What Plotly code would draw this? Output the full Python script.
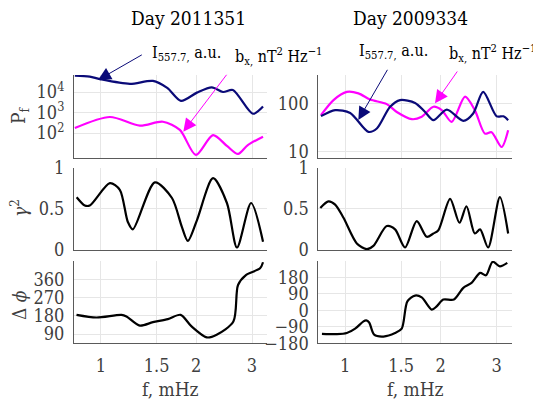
import plotly.graph_objects as go
import math

# ---------------- data ----------------
# Day 2011351
f_I_L = [0.828, 0.923, 0.993, 1.235, 1.46, 1.62, 1.79, 2.01, 2.24, 2.43, 2.61, 3.02, 3.25]
I_L = [63000, 56000, 42700, 25000, 34700, 15800, 3700, 9330, 17000, 10000, 12600, 870, 1950]
f_b_L = [0.828, 1.068, 1.328, 1.57, 1.776, 1.995, 2.26, 2.5, 2.71, 2.91, 3.25]
b_L = [174, 603, 229, 355, 141, 8.5, 79, 23.4, 9.5, 25.7, 66]
f_g_L = [0.839, 0.89, 0.923, 1.068, 1.148, 1.217, 1.262, 1.481, 1.677, 1.802, 1.882, 2.01, 2.26, 2.5, 2.69, 2.98, 3.25]
g_L = [0.64, 0.54, 0.54, 0.81, 0.73, 0.34, 0.25, 0.82, 0.63, 0.28, 0.11, 0.36, 0.87, 0.57, 0.03, 0.57, 0.1]
f_p_L = [0.838, 0.969, 1.162, 1.205, 1.328, 1.46, 1.628, 1.786, 1.933, 2.16, 2.32, 2.62, 2.71, 2.87, 3.18, 3.25]
p_L = [185, 172, 185, 177, 132, 149, 164, 185, 128, 74, 87, 152, 332, 381, 414, 444]

# Day 2009334
f_I_R = [0.839, 0.93, 1.037, 1.184, 1.258, 1.385, 1.489, 1.66, 1.785, 1.896, 2.09, 2.355, 2.53, 2.72, 3.0, 3.15, 3.26]
I_R = [54.2, 72.4, 63.1, 25.4, 29.9, 85.1, 117.5, 102.3, 66.1, 44.7, 74.1, 43.2, 61.7, 173.8, 53.7, 53.7, 44.7]
f_b_R = [0.839, 0.919, 1.012, 1.101, 1.198, 1.352, 1.454, 1.621, 1.742, 1.896, 2.014, 2.165, 2.385, 2.56, 2.755, 2.89, 3.11, 3.26]
b_R = [56.9, 117.5, 173.8, 162.2, 120.2, 96.6, 66.1, 46.8, 52.5, 85.1, 72.4, 41.2, 138, 72.4, 23.4, 25.1, 12.3, 27.5]
f_g_R = [0.835, 0.886, 0.93, 0.988, 1.088, 1.17, 1.227, 1.352, 1.436, 1.544, 1.68, 1.807, 1.896, 1.966, 2.14, 2.29, 2.41, 2.56, 2.66, 2.82, 3.07, 3.26]
g_R = [0.51, 0.59, 0.55, 0.39, 0.08, 0.01, 0.05, 0.29, 0.25, 0.03, 0.35, 0.16, 0.2, 0.24, 0.62, 0.33, 0.53, 0.2, 0.25, 0.03, 0.64, 0.2]
f_p_R = [0.845, 0.942, 1.012, 1.075, 1.142, 1.165, 1.19, 1.234, 1.32, 1.436, 1.507, 1.57, 1.66, 1.742, 1.874, 1.942, 2.037, 2.2, 2.355, 2.5, 2.66, 2.776, 2.914, 3.07, 3.24]
p_R = [-128, -130, -124, -100, -60, -55, -66, -133, -143, -124, -100, 49, 81, 71, 4, 22, 59, 59, 123, 150, 205, 192, 266, 241, 260]

x_ticks = [1, 1.5, 2, 3]
x_ticktext = ["1", "1.5", "2", "3"]

# ---------------- styling ----------------
FONT = "DejaVu Serif Condensed, DejaVu Serif, serif"
NAVY = "#0a0a78"
MAG = "#ff00ff"
GRID = "#e6e6e6"
AX = "#5a5a5a"
TICK = "#404040"

# the page body has an 8 px margin: the figure is drawn 8 px smaller and
# window pixel positions are converted to paper fractions with that offset
OFF = 8
W, H = 541 - OFF, 405 - OFF
def PX(px):
    return (px - OFF) / W
def PY(py):
    return 1 - (py - OFF) / H

fig = go.Figure()

def line(x, y, xa, ya, color):
    fig.add_trace(go.Scatter(x=x, y=y, xaxis=xa, yaxis=ya, mode="lines",
                             line=dict(color=color, width=2.2, shape="spline", smoothing=0.8),
                             showlegend=False, hoverinfo="skip"))

line(f_I_L, I_L, "x", "y", NAVY)
line(f_b_L, b_L, "x", "y", MAG)
line(f_b_R, b_R, "x2", "y2", MAG)
line(f_I_R, I_R, "x2", "y2", NAVY)
line(f_g_L, g_L, "x3", "y3", "black")
line(f_g_R, g_R, "x4", "y4", "black")
line(f_p_L, p_L, "x5", "y5", "black")
line(f_p_R, p_R, "x6", "y6", "black")

xr = [math.log10(0.823), math.log10(3.345)]
dom_L = [PX(74), PX(267)]
dom_R = [PX(318.3), PX(511.7)]
rows = [[PY(158), PY(75)], [PY(250), PY(167.5)], [PY(343.3), PY(261)]]

def xax(dom, anchor, labels):
    return dict(type="log", range=xr, domain=dom, anchor=anchor, automargin=False,
                tickvals=x_ticks, ticktext=x_ticktext, showticklabels=labels,
                showgrid=True, gridcolor=GRID, gridwidth=1, zeroline=False,
                showline=True, linecolor=AX, linewidth=1, ticks="",
                tickfont=dict(family=FONT, size=18, color=TICK),
                ticklabelstandoff=6)

def yax(dom, anchor, **kw):
    d = dict(domain=dom, anchor=anchor, automargin=False, showgrid=True, gridcolor=GRID, gridwidth=1,
             zeroline=False, showline=True, linecolor=AX, linewidth=1, ticks="",
             tickfont=dict(family=FONT, size=18, color=TICK), ticklabelstandoff=5)
    d.update(kw)
    return d

layout = dict(
    template="none",
    width=W, height=H,
    margin=dict(l=0, r=0, t=0, b=0, pad=0),
    paper_bgcolor="white", plot_bgcolor="white",
    font=dict(family=FONT, color="black"),
    showlegend=False,
    xaxis=xax(dom_L, "y", False),
    xaxis2=xax(dom_R, "y2", False),
    xaxis3=xax(dom_L, "y3", False),
    xaxis4=xax(dom_R, "y4", False),
    xaxis5=xax(dom_L, "y5", True),
    xaxis6=xax(dom_R, "y6", True),
    yaxis=yax(rows[0], "x", type="log", range=[0.78, 4.83],
              tickvals=[100, 1000, 10000],
              ticktext=["10<sup>2</sup>", "10<sup>3</sup>", "10<sup>4</sup>"]),
    yaxis2=yax(rows[0], "x2", type="log", range=[0.86, 2.593],
               tickvals=[10, 100], ticktext=["10", "100"]),
    yaxis3=yax(rows[1], "x3", range=[0, 1], tickvals=[0, 0.5, 1], ticktext=["0", "0.5", "1"]),
    yaxis4=yax(rows[1], "x4", range=[0, 1], tickvals=[0, 0.5, 1], ticktext=["0", "0.5", "1"]),
    yaxis5=yax(rows[2], "x5", range=[45, 450], tickvals=[90, 180, 270, 360],
               ticktext=["90", "180", "270", "360"]),
    yaxis6=yax(rows[2], "x6", range=[-180, 270], tickvals=[-180, -90, 0, 90, 180],
               ticktext=["\u2212180", "\u221290", "0", "90", "180"]),
)
fig.update_layout(**layout)

ann = []
def txt(x, y, s, size, color="black", xanchor="center", **kw):
    d = dict(x=PX(x), y=PY(y), xref="paper", yref="paper", text=s, showarrow=False,
             xanchor=xanchor, yanchor="middle",
             font=dict(family=FONT, size=size, color=color))
    d.update(kw)
    ann.append(d)

txt(188, 18, "Day 2011351", 19)
txt(410, 18, "Day 2009334", 19)
txt(170.5, 389, "f, mHz", 19, TICK)
txt(415, 389, "f, mHz", 19, TICK)
txt(19, 115, "P<sub>f</sub>", 19, TICK, textangle=-90)
txt(19, 208, "<i>\u03b3</i><sup>2</sup>", 19, TICK, textangle=-90)
txt(19, 305, "\u0394 <i>\u03d5</i>", 19, TICK, textangle=-90)

lbl_I = "I<sub>557.7,</sub> a.u."
lbl_b = "b<sub>x,</sub> nT<sup>2</sup> Hz<sup>\u22121</sup>"
txt(150, 53, lbl_I, 16, xanchor="left")
txt(233, 57, lbl_b, 16, xanchor="left")
txt(356.7, 51, lbl_I, 16, xanchor="left")
txt(446.7, 53, lbl_b, 16, xanchor="left")

def arrow(hx, hy, tx, ty, color):
    ann.append(dict(x=PX(hx), y=PY(hy), xref="paper", yref="paper",
                    ax=tx - hx, ay=ty - hy, text="", showarrow=True,
                    arrowhead=2, arrowsize=2.6, arrowwidth=1, arrowcolor=color))

arrow(98, 80, 143.3, 54, NAVY)
arrow(183.3, 131.7, 227.7, 73.3, MAG)
arrow(358.3, 120, 388.3, 68.3, NAVY)
arrow(435, 103.3, 458.3, 70, MAG)

fig.update_layout(annotations=ann)
fig.write_html("out.html")
